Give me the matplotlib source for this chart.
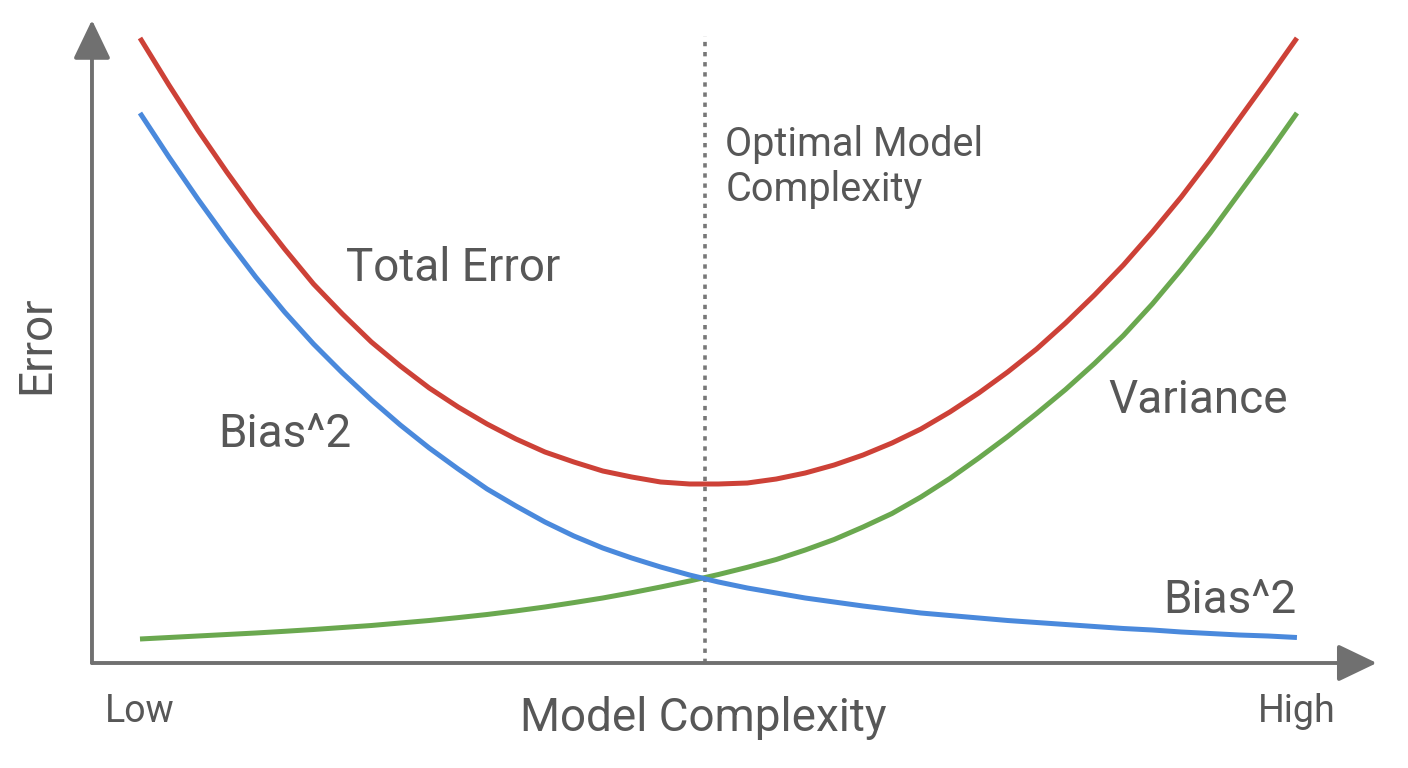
import matplotlib.pyplot as plt

plt.rcParams['font.family'] = ['Roboto', 'DejaVu Sans']

# model complexity (arbitrary units, low -> high)
complexity = [0, 0.25, 0.5, 0.75, 1, 1.25, 1.5, 1.75, 2, 2.25, 2.5, 2.75, 3, 3.25,
              3.5, 3.75, 4, 4.25, 4.5, 4.75, 5, 5.25, 5.5, 5.75, 6, 6.25, 6.5,
              6.75, 7, 7.25, 7.5, 7.75, 8, 8.25, 8.5, 8.75, 9, 9.25, 9.5, 9.75, 10]

# error values
total_error = [6.25, 5.78, 5.33, 4.91, 4.51, 4.14, 3.79, 3.49, 3.21, 2.97, 2.75,
               2.56, 2.39, 2.24, 2.11, 2.01, 1.92, 1.86, 1.81, 1.79, 1.79, 1.80,
               1.84, 1.90, 1.98, 2.08, 2.20, 2.34, 2.51, 2.70, 2.91, 3.14, 3.40,
               3.68, 3.98, 4.31, 4.66, 5.04, 5.44, 5.84, 6.25]
bias_sq = [5.50, 5.06, 4.64, 4.24, 3.86, 3.51, 3.19, 2.90, 2.63, 2.38, 2.15,
           1.94, 1.74, 1.57, 1.41, 1.27, 1.15, 1.05, 0.96, 0.88, 0.81, 0.75,
           0.70, 0.65, 0.61, 0.57, 0.535, 0.50, 0.475, 0.45, 0.425, 0.405, 0.385,
           0.365, 0.345, 0.33, 0.31, 0.295, 0.28, 0.27, 0.255]
variance = [0.24, 0.255, 0.27, 0.285, 0.30, 0.317, 0.335, 0.355, 0.375, 0.40, 0.425,
            0.454, 0.485, 0.521, 0.56, 0.604, 0.65, 0.703, 0.76, 0.82, 0.885, 0.957,
            1.035, 1.13, 1.235, 1.36, 1.495, 1.66, 1.845, 2.05, 2.265, 2.495, 2.735,
            2.995, 3.275, 3.59, 3.935, 4.30, 4.695, 5.09, 5.50]

optimal = 4.88

red = '#cd4137'
blue = '#4a89dc'
green = '#6aa84f'
axis_col = '#707070'
txt = '#575757'

fig = plt.figure(figsize=(14.08, 7.68), dpi=100)
ax = fig.add_axes([0, 0, 1, 1])
ax.set_xlim(-1.21, 10.96)
ax.set_ylim(-1.05, 6.63)
ax.axis('off')

# axes with arrow heads
arrow = dict(arrowstyle='-|>,head_length=2.4,head_width=1.15', mutation_scale=10,
             color=axis_col, lw=2.8, shrinkA=0, shrinkB=0)
ax.annotate('', xy=(10.69, 0), xytext=(-0.415, 0), arrowprops=arrow)
ax.annotate('', xy=(-0.415, 6.43), xytext=(-0.415, 0), arrowprops=arrow)

# optimal complexity marker
ax.vlines(optimal, 0, 6.27, colors='#777777', lw=2.6, linestyles=(0, (1.2, 1.6)))

style = dict(lw=3.6, solid_capstyle='butt', solid_joinstyle='round')
ax.plot(complexity, total_error, color=red, **style)
ax.plot(complexity, variance, color=green, **style)
ax.plot(complexity, bias_sq, color=blue, **style)

ax.text(1.78, 3.82, 'Total Error', fontsize=33, color=txt, ha='left', va='baseline')
ax.text(0.68, 2.16, 'Bias^2', fontsize=33, color=txt, ha='left', va='baseline')
ax.text(8.37, 2.50, 'Variance', fontsize=33, color=txt, ha='left', va='baseline')
ax.text(10.0, 0.50, 'Bias^2', fontsize=33, color=txt, ha='right', va='baseline')
ax.text(5.06, 5.07, 'Optimal Model', fontsize=28.5, color=txt, ha='left', va='baseline')
ax.text(5.06, 4.62, 'Complexity', fontsize=28.5, color=txt, ha='left', va='baseline')

ax.text(0.0, -0.59, 'Low', fontsize=27, color=txt, ha='center', va='baseline')
ax.text(10.0, -0.59, 'High', fontsize=27, color=txt, ha='center', va='baseline')
ax.text(4.87, -0.68, 'Model Complexity', fontsize=33, color=txt, ha='center', va='baseline')
ax.text(-0.90, 3.18, 'Error', fontsize=33, color=txt, rotation=90, ha='center', va='center')

fig.savefig('out.png', dpi=100, facecolor='white')
